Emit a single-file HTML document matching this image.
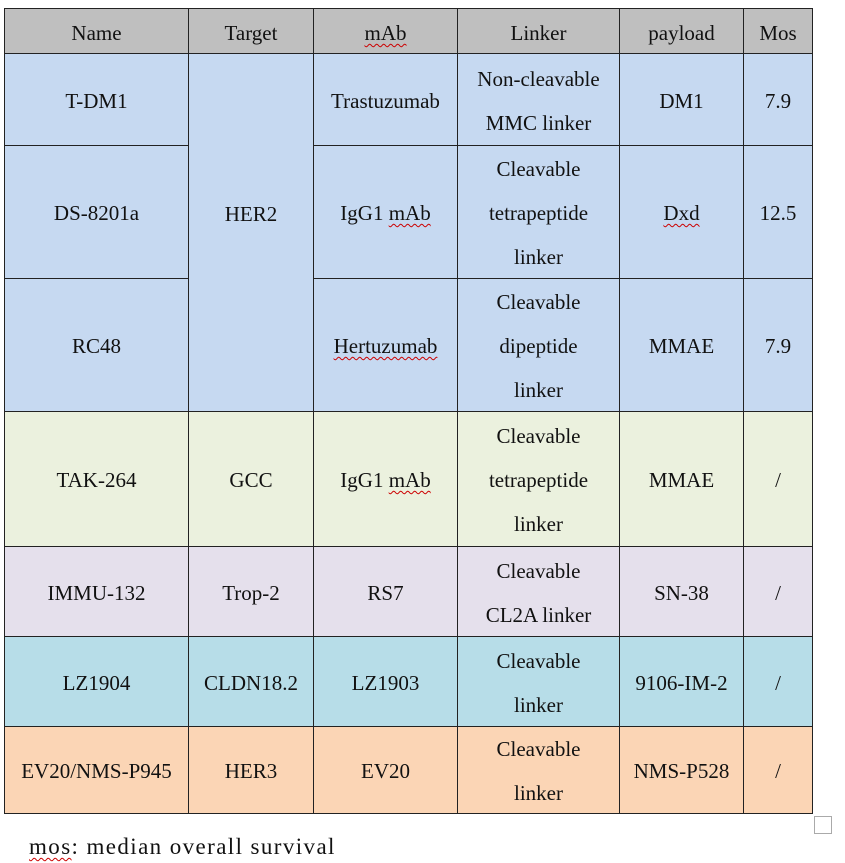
<!DOCTYPE html>
<html><head><meta charset="utf-8"><style>
body{margin:0;width:845px;height:863px;background:#fff;position:relative;overflow:hidden;font-family:"Liberation Serif","DejaVu Serif","Times New Roman",serif;font-size:21px;color:#111}
.c{position:absolute;box-sizing:border-box;border:1.5px solid #222;display:flex;align-items:center;justify-content:center;text-align:center;line-height:44px;padding-top:2px}
.h{background:#bfbfbf;line-height:24px;padding-top:4px}
.b{background:#c6d9f1}.g{background:#ebf1de}.p{background:#e5e0ec}.t{background:#b7dde8}.o{background:#fbd5b5}
.u{text-decoration:underline wavy #c00;text-decoration-thickness:1px;text-underline-offset:3px}
</style></head><body>
<div class="c h" style="left:4px;top:8px;width:185px;height:46px">Name</div>
<div class="c h" style="left:188px;top:8px;width:126px;height:46px">Target</div>
<div class="c h" style="left:313px;top:8px;width:145px;height:46px"><span class="u">mAb</span></div>
<div class="c h" style="left:457px;top:8px;width:163px;height:46px">Linker</div>
<div class="c h" style="left:619px;top:8px;width:125px;height:46px">payload</div>
<div class="c h" style="left:743px;top:8px;width:70px;height:46px">Mos</div>

<div class="c b" style="left:4px;top:53px;width:185px;height:93px">T-DM1</div>
<div class="c b" style="left:188px;top:53px;width:126px;height:359px;padding-top:0;padding-bottom:38px">HER2</div>
<div class="c b" style="left:313px;top:53px;width:145px;height:93px">Trastuzumab</div>
<div class="c b" style="left:457px;top:53px;width:163px;height:93px">Non-cleavable<br>MMC linker</div>
<div class="c b" style="left:619px;top:53px;width:125px;height:93px">DM1</div>
<div class="c b" style="left:743px;top:53px;width:70px;height:93px">7.9</div>

<div class="c b" style="left:4px;top:145px;width:185px;height:134px">DS-8201a</div>
<div class="c b" style="left:313px;top:145px;width:145px;height:134px"><span>IgG1 <span class="u">mAb</span></span></div>
<div class="c b" style="left:457px;top:145px;width:163px;height:134px">Cleavable<br>tetrapeptide<br>linker</div>
<div class="c b" style="left:619px;top:145px;width:125px;height:134px"><span class="u">Dxd</span></div>
<div class="c b" style="left:743px;top:145px;width:70px;height:134px">12.5</div>

<div class="c b" style="left:4px;top:278px;width:185px;height:134px">RC48</div>
<div class="c b" style="left:313px;top:278px;width:145px;height:134px"><span class="u">Hertuzumab</span></div>
<div class="c b" style="left:457px;top:278px;width:163px;height:134px">Cleavable<br>dipeptide<br>linker</div>
<div class="c b" style="left:619px;top:278px;width:125px;height:134px">MMAE</div>
<div class="c b" style="left:743px;top:278px;width:70px;height:134px">7.9</div>

<div class="c g" style="left:4px;top:411px;width:185px;height:136px">TAK-264</div>
<div class="c g" style="left:188px;top:411px;width:126px;height:136px">GCC</div>
<div class="c g" style="left:313px;top:411px;width:145px;height:136px"><span>IgG1 <span class="u">mAb</span></span></div>
<div class="c g" style="left:457px;top:411px;width:163px;height:136px">Cleavable<br>tetrapeptide<br>linker</div>
<div class="c g" style="left:619px;top:411px;width:125px;height:136px">MMAE</div>
<div class="c g" style="left:743px;top:411px;width:70px;height:136px">/</div>

<div class="c p" style="left:4px;top:546px;width:185px;height:91px">IMMU-132</div>
<div class="c p" style="left:188px;top:546px;width:126px;height:91px">Trop-2</div>
<div class="c p" style="left:313px;top:546px;width:145px;height:91px">RS7</div>
<div class="c p" style="left:457px;top:546px;width:163px;height:91px">Cleavable<br>CL2A linker</div>
<div class="c p" style="left:619px;top:546px;width:125px;height:91px">SN-38</div>
<div class="c p" style="left:743px;top:546px;width:70px;height:91px">/</div>

<div class="c t" style="left:4px;top:636px;width:185px;height:91px">LZ1904</div>
<div class="c t" style="left:188px;top:636px;width:126px;height:91px">CLDN18.2</div>
<div class="c t" style="left:313px;top:636px;width:145px;height:91px">LZ1903</div>
<div class="c t" style="left:457px;top:636px;width:163px;height:91px">Cleavable<br>linker</div>
<div class="c t" style="left:619px;top:636px;width:125px;height:91px">9106-IM-2</div>
<div class="c t" style="left:743px;top:636px;width:70px;height:91px">/</div>

<div class="c o" style="left:4px;top:726px;width:185px;height:88px">EV20/NMS-P945</div>
<div class="c o" style="left:188px;top:726px;width:126px;height:88px">HER3</div>
<div class="c o" style="left:313px;top:726px;width:145px;height:88px">EV20</div>
<div class="c o" style="left:457px;top:726px;width:163px;height:88px">Cleavable<br>linker</div>
<div class="c o" style="left:619px;top:726px;width:125px;height:88px">NMS-P528</div>
<div class="c o" style="left:743px;top:726px;width:70px;height:88px">/</div>

<div style="position:absolute;left:814px;top:816px;width:18px;height:18px;box-sizing:border-box;border:1.5px solid #aaa"></div>
<div style="position:absolute;left:29px;top:832px;line-height:30px;font-size:23px;letter-spacing:1.4px"><span class="u">mos</span>: median overall survival</div>
</body></html>
